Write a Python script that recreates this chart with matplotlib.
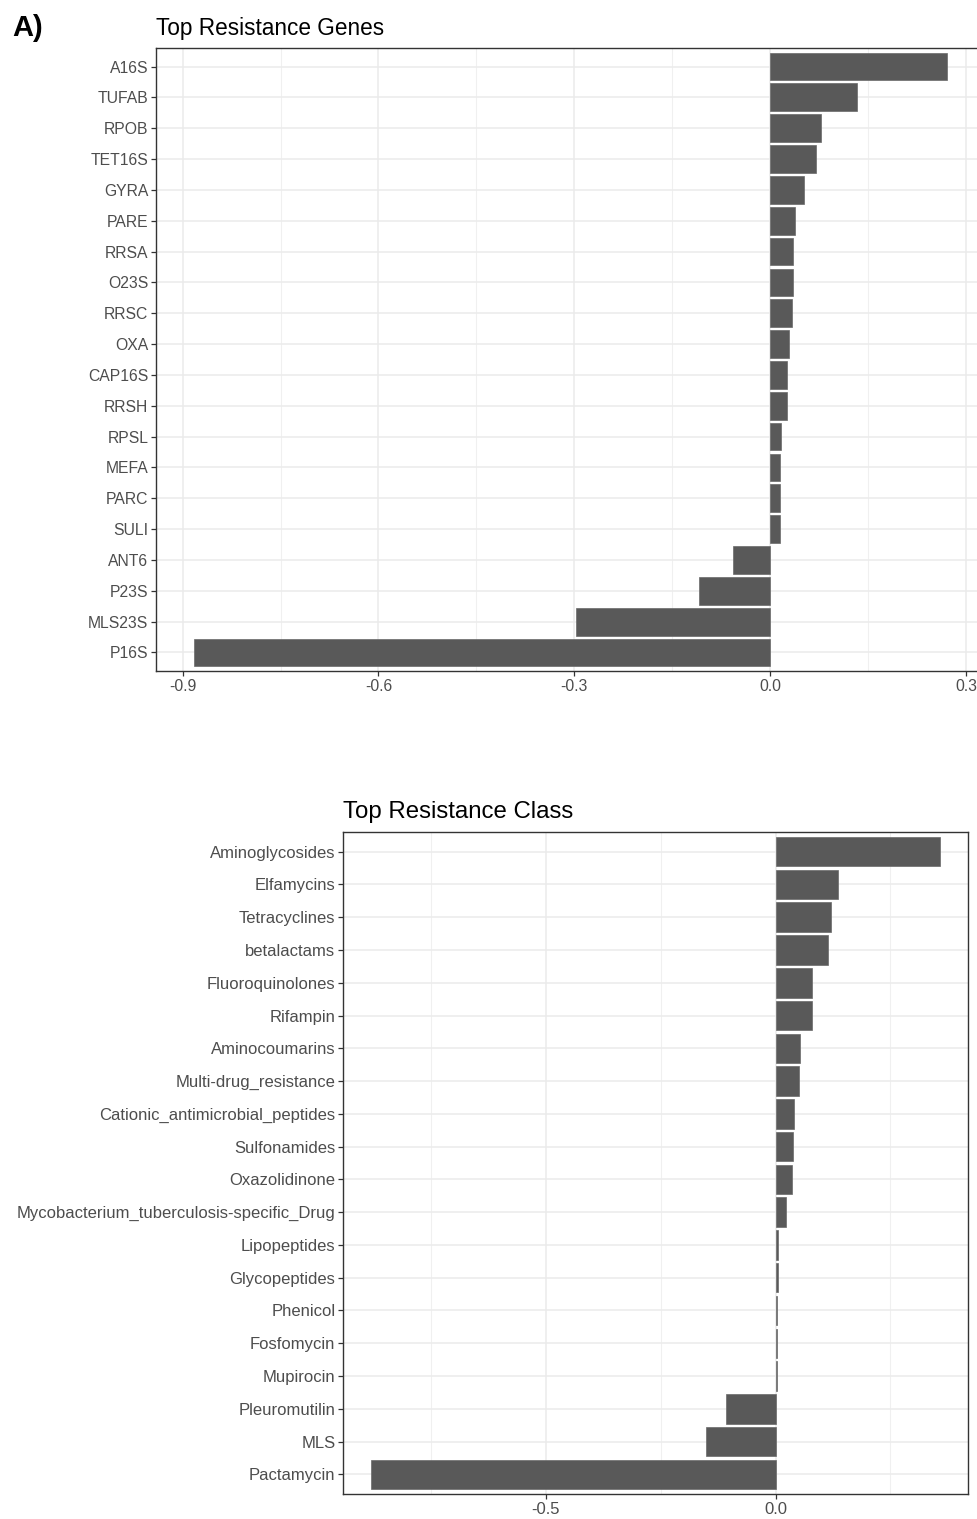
import matplotlib
matplotlib.use("Agg")
import matplotlib.pyplot as plt
from matplotlib.ticker import FixedLocator

plt.rcParams['font.family'] = ['Liberation Sans', 'DejaVu Sans']

genes = ["A16S", "TUFAB", "RPOB", "TET16S", "GYRA", "PARE", "RRSA", "O23S", "RRSC", "OXA",
         "CAP16S", "RRSH", "RPSL", "MEFA", "PARC", "SULI", "ANT6", "P23S", "MLS23S", "P16S"]
gene_vals = [0.271, 0.132, 0.078, 0.070, 0.052, 0.037, 0.035, 0.035, 0.033, 0.029,
             0.026, 0.026, 0.017, 0.015, 0.015, 0.015, -0.057, -0.110, -0.298, -0.883]

classes = ["Aminoglycosides", "Elfamycins", "Tetracyclines", "betalactams", "Fluoroquinolones",
           "Rifampin", "Aminocoumarins", "Multi-drug_resistance", "Cationic_antimicrobial_peptides",
           "Sulfonamides", "Oxazolidinone", "Mycobacterium_tuberculosis-specific_Drug",
           "Lipopeptides", "Glycopeptides", "Phenicol", "Fosfomycin", "Mupirocin",
           "Pleuromutilin", "MLS", "Pactamycin"]
class_vals = [0.357, 0.135, 0.120, 0.115, 0.080, 0.080, 0.054, 0.050, 0.041, 0.037, 0.035,
              0.022, 0.006, 0.006, 0.002, 0.002, 0.002, -0.107, -0.152, -0.880]

gene_major = [-0.9, -0.6, -0.3, 0.0, 0.3]
gene_minor = [-0.75, -0.45, -0.15, 0.15]
class_major = [-0.5, 0.0]
class_minor = [-0.75, -0.25, 0.25]

W, H = 977, 1519
fig = plt.figure(figsize=(W / 100, H / 100), dpi=100)

def px_axes(x0, y0, x1, y1):
    return fig.add_axes([x0 / W, 1 - y1 / H, (x1 - x0) / W, (y1 - y0) / H])

def style(ax, cats, vals, major, minor, title, lsize, tsize, tpad):
    n = len(cats)
    ypos = list(range(n))[::-1]
    ax.barh(ypos, vals, height=0.9, color="#595959", edgecolor="#6a6a6a", linewidth=0.5, zorder=3)
    ax.set_yticks(ypos)
    ax.set_yticklabels(cats)
    ax.set_ylim(-0.6, n - 1 + 0.6)
    lo = min(vals); hi = max(vals); r = hi - lo
    ax.set_xlim(lo - 0.05 * r, hi + 0.05 * r)
    ax.xaxis.set_major_locator(FixedLocator(major))
    ax.xaxis.set_minor_locator(FixedLocator(minor))
    ax.set_xticklabels([f"{v:.1f}" for v in major])
    ax.grid(True, which="major", color="#EBEBEB", linewidth=1.1, zorder=0)
    ax.grid(True, which="minor", axis="x", color="#F0F0F0", linewidth=0.8, zorder=0)
    ax.set_axisbelow(True)
    for s in ax.spines.values():
        s.set_color("#333333")
        s.set_linewidth(1.0)
    ax.tick_params(axis="both", which="major", length=3.5, width=0.9, color="#333333",
                   labelsize=lsize, labelcolor="#4D4D4D", pad=2)
    ax.tick_params(axis="x", which="minor", length=0)
    ax.set_title(title, loc="left", fontsize=tsize, color="black", pad=tpad)

ax1 = px_axes(156, 48, 985, 671)
style(ax1, genes, gene_vals, gene_major, gene_minor, "Top Resistance Genes", 11.3, 16.3, 9)

ax2 = px_axes(343, 832, 968, 1494)
style(ax2, classes, class_vals, class_major, class_minor, "Top Resistance Class", 12, 17.3, 10)

fig.text(12 / W, 1 - 36 / H, "A)", fontsize=21, fontweight="bold", color="black")

fig.savefig("out.png", dpi=100)
